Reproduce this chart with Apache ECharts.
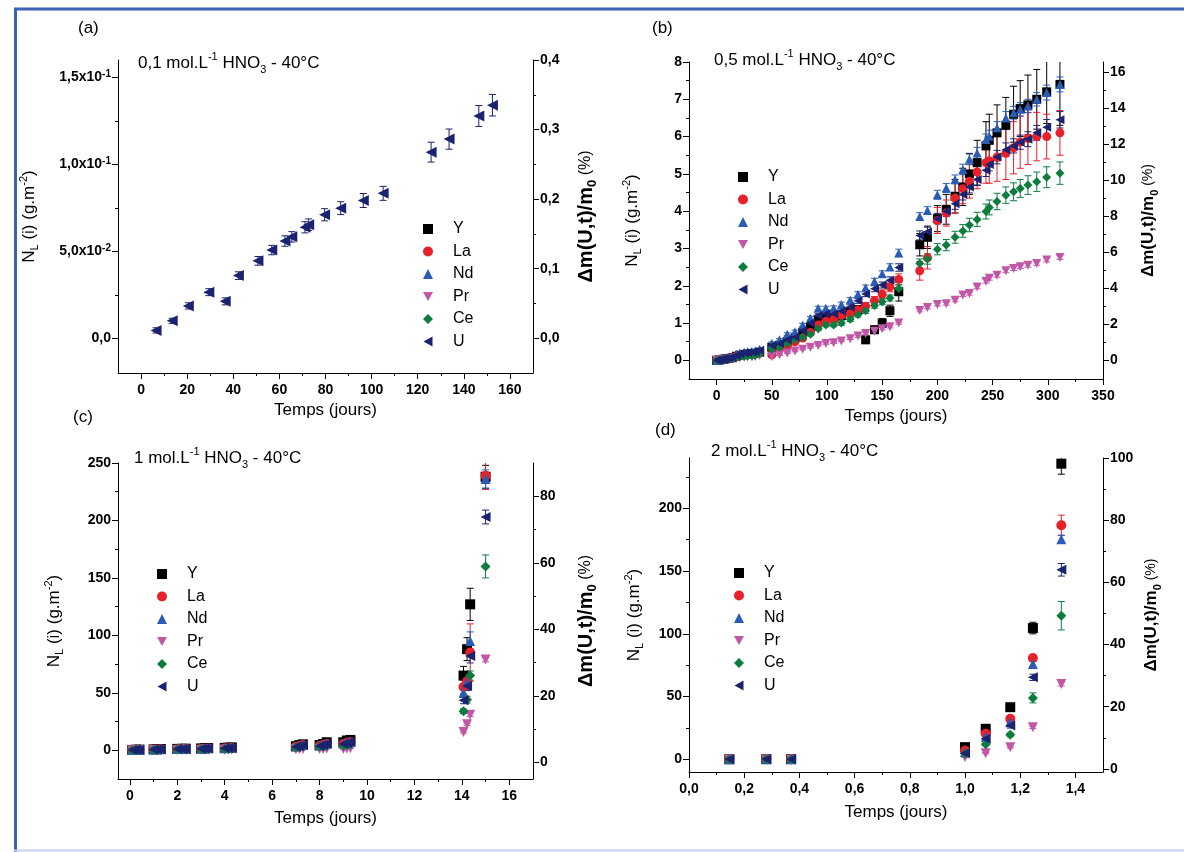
<!DOCTYPE html>
<html><head><meta charset="utf-8">
<script src="https://cdn.jsdelivr.net/npm/echarts@6/dist/echarts.min.js"></script>
<style>html,body{margin:0;padding:0;background:#fff}#c{width:1184px;height:852px}</style>
</head><body><div id="c"></div>
<script>
// ---------- data ----------
const elements = ['Y', 'La', 'Nd', 'Pr', 'Ce', 'U'];

// (a) 0,1 mol/L HNO3
const aDays = [6.5,13.5,20.5,29.4,36.5,42.2,50.7,56.7,62.4,65.4,71.1,72.7,79.6,86.6,96.4,105,125.8,133.6,146.5,152.4];
const aU    = [0.0045,0.010,0.0186,0.0265,0.0212,0.036,0.0445,0.0507,0.0559,0.0583,0.0638,0.0653,0.071,0.0748,0.0792,0.0833,0.107,0.1145,0.1278,0.134];
const aUErr = [0.0015,0.0015,0.0018,0.002,0.002,0.0022,0.0025,0.0027,0.003,0.003,0.0032,0.0033,0.0035,0.0037,0.004,0.004,0.0057,0.0058,0.006,0.0062];

// (b) 0,5 mol/L HNO3
const bDays = [0,2,4,6,8,11,14,18,21,25,28,32,35,39,
  50,57,64,71,78,85,92,99,106,113,121,128,135,143,150,157,165,
  184,191,200,208,216,223,229,236,244,247,254,262,269,275,282,290,299,311];
const bY  = [0,0.01,0.02,0.03,0.04,0.05,0.07,0.11,0.14,0.16,0.17,0.18,0.19,0.22,
  0.35,0.4,0.5,0.6,0.75,0.9,1.1,1.15,1.15,1.2,1.3,1.35,0.55,0.82,1.0,1.33,1.84,
  3.1,3.3,3.8,4.05,4.4,4.65,5.0,5.3,5.75,5.9,6.1,6.3,6.6,6.75,6.85,7.0,7.2,7.4];
const bYErr = [0.01,0.01,0.01,0.01,0.01,0.02,0.02,0.02,0.03,0.03,0.03,0.03,0.03,0.04,
  0.05,0.05,0.06,0.06,0.07,0.08,0.08,0.09,0.1,0.1,0.11,0.12,0.08,0.1,0.12,0.15,0.25,
  0.3,0.3,0.35,0.4,0.45,0.5,0.55,0.6,0.65,0.7,0.75,0.75,0.75,0.75,0.8,0.8,0.85,1.1];
const bLa = [0,0.01,0.01,0.02,0.03,0.04,0.06,0.1,0.13,0.15,0.16,0.17,0.18,0.2,
  0.15,0.3,0.35,0.5,0.6,0.75,0.95,1.05,1.1,1.2,1.25,1.35,1.45,1.6,1.77,1.97,2.17,
  2.4,2.75,3.75,3.95,4.35,4.6,4.8,5.05,5.3,5.35,5.45,5.55,5.7,5.85,5.95,6.0,6.0,6.1];
const bLaErr = [0.01,0.01,0.01,0.01,0.01,0.01,0.02,0.02,0.02,0.02,0.03,0.03,0.03,0.03,
  0.04,0.04,0.05,0.05,0.06,0.06,0.07,0.07,0.08,0.08,0.09,0.1,0.1,0.11,0.12,0.13,0.15,
  0.25,0.3,0.35,0.35,0.4,0.4,0.45,0.45,0.55,0.6,0.65,0.7,0.7,0.7,0.7,0.65,0.6,0.6];
const bNd = [0,0.01,0.02,0.04,0.05,0.07,0.09,0.15,0.2,0.22,0.23,0.24,0.25,0.3,
  0.46,0.55,0.7,0.77,0.95,1.13,1.4,1.4,1.4,1.5,1.62,1.77,1.95,2.12,2.32,2.5,2.88,
  3.86,4.02,4.44,4.62,4.85,5.12,5.39,5.56,5.92,6.01,6.24,6.5,6.64,6.73,6.82,7.0,7.18,7.4];
const bNdErr = [0.01,0.01,0.01,0.01,0.01,0.01,0.01,0.02,0.02,0.02,0.02,0.02,0.02,0.02,
  0.03,0.03,0.04,0.04,0.04,0.05,0.05,0.05,0.06,0.06,0.06,0.07,0.07,0.08,0.08,0.09,0.1,
  0.1,0.1,0.12,0.12,0.12,0.14,0.14,0.15,0.15,0.16,0.16,0.17,0.17,0.18,0.18,0.18,0.2,0.2];
const bPr = [0,0,0.01,0.01,0.02,0.03,0.04,0.06,0.07,0.08,0.09,0.09,0.1,0.13,
  0.1,0.15,0.2,0.25,0.3,0.35,0.4,0.45,0.47,0.52,0.58,0.65,0.72,0.78,0.85,0.9,1.0,
  1.34,1.42,1.5,1.52,1.61,1.75,1.79,1.97,2.12,2.2,2.28,2.4,2.46,2.51,2.55,2.6,2.69,2.76];
const bPrErr = [0.01,0.01,0.01,0.01,0.01,0.01,0.01,0.01,0.01,0.01,0.01,0.01,0.01,0.01,
  0.02,0.02,0.02,0.02,0.02,0.02,0.02,0.02,0.02,0.02,0.02,0.03,0.03,0.03,0.03,0.03,0.03,
  0.04,0.04,0.04,0.04,0.04,0.04,0.04,0.05,0.05,0.05,0.05,0.05,0.05,0.05,0.05,0.05,0.05,0.05];
const bCe = [0,0,0.01,0.02,0.03,0.04,0.05,0.08,0.1,0.11,0.12,0.13,0.14,0.18,
  0.3,0.35,0.45,0.55,0.62,0.7,0.85,0.95,0.95,1.0,1.1,1.22,1.33,1.47,1.57,1.67,1.93,
  2.6,2.72,2.98,3.09,3.3,3.47,3.63,3.78,3.99,4.1,4.26,4.43,4.52,4.61,4.7,4.79,4.91,5.02];
const bCeErr = [0.01,0.01,0.01,0.01,0.01,0.01,0.01,0.02,0.02,0.02,0.02,0.02,0.02,0.02,
  0.03,0.03,0.03,0.04,0.04,0.04,0.05,0.05,0.05,0.06,0.06,0.06,0.07,0.07,0.08,0.08,0.1,
  0.12,0.14,0.15,0.15,0.16,0.17,0.18,0.19,0.2,0.2,0.22,0.22,0.24,0.24,0.25,0.26,0.28,0.3];
const bU  = [0,0.01,0.02,0.03,0.04,0.06,0.08,0.13,0.18,0.2,0.21,0.22,0.23,0.27,
  0.4,0.45,0.55,0.62,0.8,1.0,1.2,1.25,1.25,1.32,1.43,1.6,1.78,1.92,2.02,2.15,2.49,
  3.35,3.45,3.8,4.0,4.2,4.45,4.65,4.85,5.1,5.25,5.45,5.65,5.75,5.85,5.93,6.1,6.25,6.45];
const bUErr = [0.01,0.01,0.01,0.01,0.01,0.01,0.01,0.02,0.02,0.02,0.02,0.02,0.02,0.02,
  0.03,0.03,0.04,0.04,0.04,0.05,0.05,0.05,0.06,0.06,0.06,0.07,0.07,0.08,0.08,0.09,0.1,
  0.12,0.12,0.14,0.14,0.15,0.15,0.16,0.16,0.17,0.17,0.18,0.18,0.19,0.19,0.2,0.2,0.21,0.22];

// (c) 1 mol/L HNO3
const cDays = [0.1,0.25,0.4, 1.0,1.15,1.3, 2.0,2.2,2.35, 3.0,3.15,3.3, 4.0,4.15,4.3, 7.0,7.15,7.3, 8.0,8.15,8.3, 9.0,9.15,9.3, 14.07,14.22,14.35, 15.0];
const cY  = [0.3,0.5,0.6, 0.8,1.0,1.1, 1.2,1.3,1.4, 1.6,1.8,2.0, 2.1,2.3,2.5, 3.5,4.5,5.2, 4.5,5.5,7.0, 7.0,8.5,9.0, 65,88,127, 238];
const cYErr = [0.3,0.3,0.3, 0.3,0.3,0.3, 0.3,0.3,0.3, 0.4,0.4,0.4, 0.4,0.4,0.4, 0.6,0.6,0.6, 0.7,0.7,0.8, 0.8,0.9,1.0, 8,10,14, 10];
const cLa = [0.2,0.3,0.4, 0.6,0.7,0.8, 0.9,1.0,1.1, 1.2,1.4,1.5, 1.6,1.8,1.9, 3.0,3.8,4.5, 3.8,4.6,5.5, 5.5,6.5,7.0, 55,60,85, 239];
const cLaErr = [0.2,0.2,0.2, 0.2,0.2,0.2, 0.2,0.2,0.2, 0.3,0.3,0.3, 0.3,0.3,0.3, 0.5,0.5,0.5, 0.6,0.6,0.6, 0.7,0.7,0.8, 6,8,25, 12];
const cNd = [0.3,0.4,0.5, 0.7,0.8,0.9, 1.0,1.1,1.2, 1.4,1.5,1.7, 1.8,2.0,2.1, 3.2,4.0,4.8, 4.0,5.0,6.0, 6.0,7.0,7.5, 50,59,95, 236];
const cNdErr = [0.2,0.2,0.2, 0.2,0.2,0.2, 0.2,0.2,0.2, 0.3,0.3,0.3, 0.3,0.3,0.3, 0.4,0.4,0.4, 0.5,0.5,0.5, 0.6,0.6,0.6, 4,6,8, 8];
const cPr = [0.1,0.1,0.2, 0.2,0.3,0.3, 0.3,0.4,0.4, 0.5,0.5,0.6, 0.6,0.7,0.7, 0.8,1.0,1.2, 1.0,1.2,1.5, 1.2,1.5,1.8, 16,22.6,31, 79];
const cPrErr = [0.1,0.1,0.1, 0.1,0.1,0.1, 0.1,0.1,0.1, 0.1,0.1,0.1, 0.1,0.1,0.1, 0.2,0.2,0.2, 0.2,0.2,0.2, 0.2,0.2,0.2, 1,1,1.5, 2];
const cCe = [0.2,0.3,0.4, 0.5,0.6,0.7, 0.8,0.9,1.0, 1.1,1.2,1.3, 1.4,1.5,1.6, 2.5,3.0,3.5, 3.0,3.5,4.0, 4.0,4.5,5.0, 34,44,65, 160];
const cCeErr = [0.2,0.2,0.2, 0.2,0.2,0.2, 0.2,0.2,0.2, 0.2,0.2,0.2, 0.2,0.2,0.2, 0.3,0.3,0.3, 0.4,0.4,0.4, 0.4,0.4,0.5, 2,3,4, 10];
const cU  = [0.3,0.4,0.5, 0.7,0.8,0.9, 1.0,1.1,1.2, 1.3,1.5,1.6, 1.7,1.9,2.0, 3.0,3.8,4.5, 3.8,4.6,5.5, 5.5,6.2,7.0, 43.5,56,82, 203];
const cUErr = [0.2,0.2,0.2, 0.2,0.2,0.2, 0.2,0.2,0.2, 0.2,0.2,0.2, 0.3,0.3,0.3, 0.4,0.4,0.4, 0.4,0.5,0.5, 0.5,0.6,0.6, 3,4,6, 6];

// (d) 2 mol/L HNO3
const dDays = [0.146,0.28,0.37,1.0,1.075,1.164,1.246,1.349];
const dY  = [0.2,0.3,0.3,9.8,24.4,41.6,104.6,235.5];
const dYErr = [0.5,0.5,0.5,1,1.5,2,4.6,8.4];
const dLa = [0.1,0.2,0.2,7,20.4,32.3,80.8,186.5];
const dLaErr = [0.5,0.5,0.5,1,1,1.5,2,8];
const dNd = [0.1,0.2,0.2,6,18,29.6,76,175.4];
const dNdErr = [0.5,0.5,0.5,1,1,1.5,2,3];
const dPr = [0,0,0,2,5,9.8,25.7,60];
const dPrErr = [0.3,0.3,0.3,0.5,0.5,0.8,1,1.5];
const dCe = [0.1,0.1,0.1,4.5,12,19.6,49,114.4];
const dCeErr = [0.5,0.5,0.5,1,1,1.5,4,11.3];
const dU  = [0.2,0.2,0.2,5,16.4,27,65.4,151];
const dUErr = [0.5,0.5,0.5,1,1.5,2,2.5,5];

// ticks & labels
const aXTicks = [0,20,40,60,80,100,120,140,160];
const aXLabels = ['0','20','40','60','80','100','120','140','160'];
const aXMinor = [10,30,50,70,90,110,130,150];
const aYTicks = [0,0.05,0.1,0.15];
const aYLabels = ['0,0','5,0x10{s|-2}','1,0x10{s|-1}','1,5x10{s|-1}'];
const aYMinor = [0.025,0.075,0.125];
const aRTicks = [0,0.1,0.2,0.3,0.4];
const aRLabels = ['0,0','0,1','0,2','0,3','0,4'];
const aRMinor = [0.05,0.15,0.25,0.35];

const bXTicks = [0,50,100,150,200,250,300,350];
const bXLabels = ['0','50','100','150','200','250','300','350'];
const bXMinor = [25,75,125,175,225,275,325];
const bYTicks = [0,1,2,3,4,5,6,7,8];
const bYLabels = ['0','1','2','3','4','5','6','7','8'];
const bYMinor = [0.5,1.5,2.5,3.5,4.5,5.5,6.5,7.5];
const bRTicks = [0,2,4,6,8,10,12,14,16];
const bRLabels = ['0','2','4','6','8','10','12','14','16'];
const bRMinor = [1,3,5,7,9,11,13,15];

const cXTicks = [0,2,4,6,8,10,12,14,16];
const cXLabels = ['0','2','4','6','8','10','12','14','16'];
const cXMinor = [1,3,5,7,9,11,13,15];
const cYTicks = [0,50,100,150,200,250];
const cYLabels = ['0','50','100','150','200','250'];
const cYMinor = [25,75,125,175,225];
const cRTicks = [0,20,40,60,80];
const cRLabels = ['0','20','40','60','80'];
const cRMinor = [10,30,50,70];

const dXTicks = [0,0.2,0.4,0.6,0.8,1.0,1.2,1.4];
const dXLabels = ['0,0','0,2','0,4','0,6','0,8','1,0','1,2','1,4'];
const dXMinor = [0.1,0.3,0.5,0.7,0.9,1.1,1.3];
const dYTicks = [0,50,100,150,200];
const dYLabels = ['0','50','100','150','200'];
const dYMinor = [25,75,125,175,225];
const dRTicks = [0,20,40,60,80,100];
const dRLabels = ['0','20','40','60','80','100'];
const dRMinor = [10,30,50,70,90];

// ---------- style ----------
const FF = '"Liberation Sans", Arial, sans-serif';
const colors = {Y:'#000000', La:'#e8202a', Nd:'#2b5cb5', Pr:'#c257a7', Ce:'#0f7c3f', U:'#1b2270'};
const symbols = {Y:'rect', La:'circle', Nd:'triangle', Pr:'path://M0,0L10,0L5,9Z', Ce:'diamond', U:'path://M9,0L9,10L0,5Z'};

const panels = [
  {grid:{left:118, top:60, width:415, height:313},
   x:{min:-10, max:170, ticks:aXTicks, labels:aXLabels, minor:aXMinor, gap:29},
   y:{min:-0.02, max:0.16, ticks:aYTicks, labels:aYLabels, minor:aYMinor, gap:78},
   r:{min:-0.05, max:0.4, ticks:aRTicks, labels:aRLabels, minor:aRMinor, gap:40},
   rSize:20, days:aDays, data:{U:[aU,aUErr]}, size:11},
  {grid:{left:689, top:62, width:414, height:317},
   x:{min:-25, max:350, ticks:bXTicks, labels:bXLabels, minor:bXMinor, gap:29},
   y:{min:-0.5, max:8, ticks:bYTicks, labels:bYLabels, minor:bYMinor, gap:46},
   r:{min:-1.05, max:16.55, ticks:bRTicks, labels:bRLabels, minor:bRMinor, gap:34},
   rSize:17, days:bDays, data:{Y:[bY,bYErr], La:[bLa,bLaErr], Nd:[bNd,bNdErr], Pr:[bPr,bPrErr], Ce:[bCe,bCeErr], U:[bU,bUErr]}, size:9},
  {grid:{left:118, top:463, width:415, height:316},
   x:{min:-0.5, max:17, ticks:cXTicks, labels:cXLabels, minor:cXMinor, gap:31},
   y:{min:-25, max:250, ticks:cYTicks, labels:cYLabels, minor:cYMinor, gap:53},
   r:{min:-5, max:90, ticks:cRTicks, labels:cRLabels, minor:cRMinor, gap:40},
   rSize:20, days:cDays, data:{Y:[cY,cYErr], La:[cLa,cLaErr], Nd:[cNd,cNdErr], Pr:[cPr,cPrErr], Ce:[cCe,cCeErr], U:[cU,cUErr]}, size:10},
  {grid:{left:689, top:458, width:414, height:314},
   x:{min:0, max:1.5, ticks:dXTicks, labels:dXLabels, minor:dXMinor, gap:32},
   y:{min:-10, max:240, ticks:dYTicks, labels:dYLabels, minor:dYMinor, gap:44},
   r:{min:-1, max:100, ticks:dRTicks, labels:dRLabels, minor:dRMinor, gap:37},
   rSize:17, days:dDays, data:{Y:[dY,dYErr], La:[dLa,dLaErr], Nd:[dNd,dNdErr], Pr:[dPr,dPrErr], Ce:[dCe,dCeErr], U:[dU,dUErr]}, size:10}
];

const legendPos = [{left:423, top:221}, {left:738, top:169}, {left:157, top:566}, {left:734, top:565}];

const labelRich = {s:{fontSize:10, fontWeight:'bold', fontFamily:FF, color:'#000', verticalAlign:'top', lineHeight:8}};

function makeFormatter(ticks, labels, span) {
  return function (v) {
    for (let i = 0; i < ticks.length; i++) {
      if (Math.abs(ticks[i] - v) < span * 1e-6) return labels[i];
    }
    return '';
  };
}

function axisPair(cfg, gridIndex, position, isX, name, nameStyle, nameGap) {
  const span = cfg.max - cfg.min;
  const major = {
    type:'value', gridIndex, position, min:cfg.min, max:cfg.max,
    axisLine:{show:true, onZero:false, lineStyle:{color:'#000', width:1}},
    axisTick:{show:true, inside:false, length:6, customValues:cfg.ticks, lineStyle:{color:'#000', width:1}},
    minorTick:{show:false},
    axisLabel:{show:true, customValues:cfg.ticks, formatter:makeFormatter(cfg.ticks, cfg.labels, span),
      fontSize:14, fontWeight:'bold', fontFamily:FF, color:'#000', margin:isX ? 9 : 7, lineHeight:16, rich:labelRich,
      showMinLabel:true, showMaxLabel:true},
    splitLine:{show:false}, splitArea:{show:false},
    name:name, nameLocation:'middle', nameGap:nameGap, nameTextStyle:nameStyle
  };
  const minor = {
    type:'value', gridIndex, position, min:cfg.min, max:cfg.max,
    axisLine:{show:false, onZero:false},
    axisTick:{show:true, inside:false, length:3, customValues:cfg.minor, lineStyle:{color:'#000', width:1}},
    axisLabel:{show:false}, splitLine:{show:false}
  };
  return [major, minor];
}

function errRender(color) {
  return function (params, api) {
    const x = api.value(0), y = api.value(1), e = api.value(2);
    const p1 = api.coord([x, y + e]);
    const p2 = api.coord([x, y - e]);
    const w = 3.5;
    const st = {stroke:color, lineWidth:1, fill:null};
    return {type:'group', children:[
      {type:'line', shape:{x1:p1[0], y1:p1[1], x2:p2[0], y2:p2[1]}, style:st},
      {type:'line', shape:{x1:p1[0]-w, y1:p1[1], x2:p1[0]+w, y2:p1[1]}, style:st},
      {type:'line', shape:{x1:p2[0]-w, y1:p2[1], x2:p2[0]+w, y2:p2[1]}, style:st}
    ]};
  };
}

const grids = [], xAxes = [], yAxes = [], series = [], legends = [];
const xNameStyle = {fontSize:17, fontFamily:FF, color:'#000'};
const yNameStyle = {fontSize:17, fontFamily:FF, color:'#000', lineHeight:22, rich:{
  sub:{fontSize:11, fontFamily:FF, color:'#000', verticalAlign:'bottom', lineHeight:10},
  sup:{fontSize:11, fontFamily:FF, color:'#000', verticalAlign:'top', lineHeight:10}}};
function rNameStyle(sz) {
  return {fontSize:sz, fontWeight:'bold', fontFamily:FF, color:'#000', lineHeight:sz + 6, rich:{
    subb:{fontSize:Math.round(sz * 0.65), fontWeight:'bold', fontFamily:FF, color:'#000', verticalAlign:'bottom', lineHeight:10},
    pct:{fontSize:Math.round(sz * 0.82), fontWeight:'normal', fontFamily:FF, color:'#000'}}};
}

panels.forEach((p, pi) => {
  grids.push(Object.assign({containLabel:false, outerBoundsMode:'none'}, p.grid));
  xAxes.push(...axisPair(p.x, pi, 'bottom', true, 'Temps (jours)', xNameStyle, p.x.gap));
  yAxes.push(...axisPair(p.y, pi, 'left', false, 'N{sub|L} (i) (g.m{sup|-2})', yNameStyle, p.y.gap));
  yAxes.push(...axisPair(p.r, pi, 'right', false, 'Δm(U,t)/m{subb|0}{pct| (%)}', rNameStyle(p.rSize), p.r.gap));
  elements.forEach(el => {
    const d = p.data[el];
    if (!d) return;
    const vals = d[0], errs = d[1];
    series.push({
      type:'custom', name:el + ' err', xAxisIndex:2*pi, yAxisIndex:4*pi, silent:true, clip:true,
      renderItem:errRender(colors[el]), encode:{x:0, y:1},
      data:p.days.map((t, i) => [t, vals[i], errs[i]])
    });
    series.push({
      type:'scatter', name:el, xAxisIndex:2*pi, yAxisIndex:4*pi, symbol:symbols[el], symbolSize:p.size,
      itemStyle:{color:colors[el], opacity:1}, silent:true,
      data:p.days.map((t, i) => [t, vals[i]])
    });
  });
  legends.push({
    orient:'vertical', left:legendPos[pi].left, top:legendPos[pi].top, data:elements, selectedMode:false,
    itemWidth:10, itemHeight:10, itemGap:6.5, padding:0,
    textStyle:{fontSize:16, fontFamily:FF, color:'#000', lineHeight:16, padding:[0,0,0,15]}
  });
});

const annRich = {
  sup:{fontSize:11, fontFamily:FF, fill:'#000', verticalAlign:'top', lineHeight:11},
  sub:{fontSize:11, fontFamily:FF, fill:'#000', verticalAlign:'bottom', lineHeight:11}
};
function ann(x, y, txt) {
  return {type:'text', left:x, top:y, z:10, style:{text:txt, fontSize:17, fontFamily:FF, fill:'#000', lineHeight:24, rich:annRich}};
}
function tag(x, y, txt) {
  return {type:'text', left:x, top:y, z:10, style:{text:txt, fontSize:17, fontFamily:FF, fill:'#000'}};
}

const graphics = [
  {type:'line', shape:{x1:14, y1:9, x2:1184, y2:9}, style:{stroke:'#3a63b8', lineWidth:3}, z:10},
  {type:'line', shape:{x1:15.5, y1:8, x2:15.5, y2:852}, style:{stroke:'#3a63b8', lineWidth:3}, z:10},
  {type:'line', shape:{x1:14, y1:850.5, x2:1184, y2:850.5}, style:{stroke:'#c3d1ee', lineWidth:2}, z:10},
  tag(78, 20, '(a)'), tag(652, 20, '(b)'), tag(73, 409, '(c)'), tag(655, 422, '(d)'),
  ann(138, 51, '0,1 mol.L{sup|-1} HNO{sub|3} - 40°C'),
  ann(714, 48, '0,5 mol.L{sup|-1} HNO{sub|3} - 40°C'),
  ann(134, 446, '1 mol.L{sup|-1} HNO{sub|3} - 40°C'),
  ann(711, 439, '2 mol.L{sup|-1} HNO{sub|3} - 40°C')
];

const chart = echarts.init(document.getElementById('c'), null, {renderer:'canvas'});
chart.setOption({
  backgroundColor:'#ffffff',
  animation:false,
  grid:grids, xAxis:xAxes, yAxis:yAxes, series:series, legend:legends, graphic:graphics
});
</script></body></html>
